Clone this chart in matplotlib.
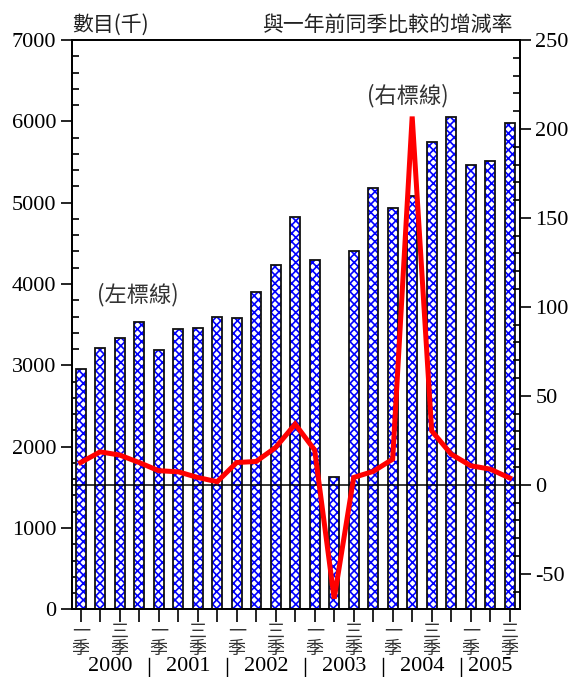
import matplotlib
matplotlib.use("Agg")
import matplotlib.pyplot as plt
from matplotlib.ticker import MultipleLocator
import numpy as np

plt.rcParams['axes.unicode_minus'] = False
plt.rcParams['hatch.linewidth'] = 1.2

quarters = ["2000Q1","2000Q2","2000Q3","2000Q4",
            "2001Q1","2001Q2","2001Q3","2001Q4",
            "2002Q1","2002Q2","2002Q3","2002Q4",
            "2003Q1","2003Q2","2003Q3","2003Q4",
            "2004Q1","2004Q2","2004Q3","2004Q4",
            "2005Q1","2005Q2","2005Q3"]
counts = [2955, 3215, 3330, 3530, 3190, 3450, 3465, 3592, 3585, 3905, 4236, 4822,
          4293, 1630, 4404, 5175, 4933, 5080, 5745, 6052, 5462, 5508, 5976]
growth = [12.5, 18.5, 16.7, 12.5, 7.9, 7.3, 4.1, 1.7, 12.5, 13.1, 21.0, 34.1,
          19.5, -64.0, 4.1, 7.5, 14.4, 207.0, 30.3, 17.2, 10.7, 8.8, 3.8]
years = ["2000", "2001", "2002", "2003", "2004", "2005"]
q_labels = {1: "一", 3: "三"}
season_char = "季"

CJK = ['Noto Sans CJK TC', 'DejaVu Sans']
SERIF = ['Liberation Serif', 'DejaVu Serif']

fig = plt.figure(figsize=(5.69, 6.77), dpi=100)
ax = fig.add_axes([0.1257, 0.100, 0.9139 - 0.1257, 0.9409 - 0.100])
x = np.arange(len(quarters))

ax.bar(x, counts, width=0.5, color='white', edgecolor='#0000ff', hatch='xxxx', linewidth=0, zorder=2)
ax.bar(x, counts, width=0.5, fill=False, edgecolor='#111111', linewidth=1.3, zorder=3)

ax.set_xlim(-0.47, 22.53)
ax.set_ylim(0, 7000)
ax.yaxis.set_major_locator(MultipleLocator(1000))
ax.yaxis.set_minor_locator(MultipleLocator(200))
ax.tick_params(axis='y', which='major', direction='out', length=8, width=1.2, labelsize=16, pad=3)
ax.tick_params(axis='y', which='minor', direction='in', length=5, width=1.2)
for lab in ax.get_yticklabels():
    lab.set_family(SERIF)

ax.set_xticks(x)
ax.set_xticklabels([])
ax.tick_params(axis='x', direction='out', length=9, width=1.2)

for sp in ax.spines.values():
    sp.set_linewidth(1.3)

ax2 = ax.twinx()
ax2.set_ylim(-70, 250)
ax2.yaxis.set_major_locator(MultipleLocator(50))
ax2.yaxis.set_minor_locator(MultipleLocator(10))
ax2.tick_params(axis='y', which='major', direction='out', length=8, width=1.2, labelsize=16, pad=3)
ax2.tick_params(axis='y', which='minor', direction='in', length=5, width=1.2)
for lab in ax2.get_yticklabels():
    lab.set_family(SERIF)
for sp in ax2.spines.values():
    sp.set_linewidth(1.3)
ax2.axhline(0, color='black', linewidth=1.1, zorder=1)
ax2.plot(x, growth, color='#ff0000', linewidth=3.6, solid_joinstyle='miter', zorder=3)

trans = matplotlib.transforms.blended_transform_factory(ax.transData, ax.transAxes)
# quarter labels (vertical)
for k, q in enumerate(quarters):
    qi = int(q[-1])
    if qi in q_labels:
        ax.text(k, -0.039, q_labels[qi], transform=trans, ha='center', va='center',
                fontsize=13, family=CJK, color='#333333')
        ax.text(k, -0.070, season_char, transform=trans, ha='center', va='center',
                fontsize=13, family=CJK, color='#333333')

# year labels and separators
for i, yr in enumerate(years):
    idx = [k for k, q in enumerate(quarters) if q.startswith(yr)]
    ax.text(np.mean(idx), -0.101, yr, transform=trans, ha='center', va='center',
            fontsize=16, family=SERIF)
    if i > 0:
        sx = idx[0] - 0.5
        ax.plot([sx, sx], [-0.085, -0.118], transform=trans, color='black',
                linewidth=1.0, clip_on=False)

fig.text(72 / 569, 1 - 25 / 677, "數目(千)", family=CJK, fontsize=15, ha='left', va='center', color='#222222')
fig.text(513 / 569, 1 - 25 / 677, "與一年前同季比較的增減率", family=CJK, fontsize=15, ha='right', va='center', color='#222222')

ax.text(2.94, 3866, "(左標線)", family=CJK, fontsize=16, ha='center', va='center', color='#333333', zorder=5)
ax2.text(16.8, 219, "(右標線)", family=CJK, fontsize=16, ha='center', va='center', color='#333333', zorder=5)

fig.savefig("out.png", dpi=100)
